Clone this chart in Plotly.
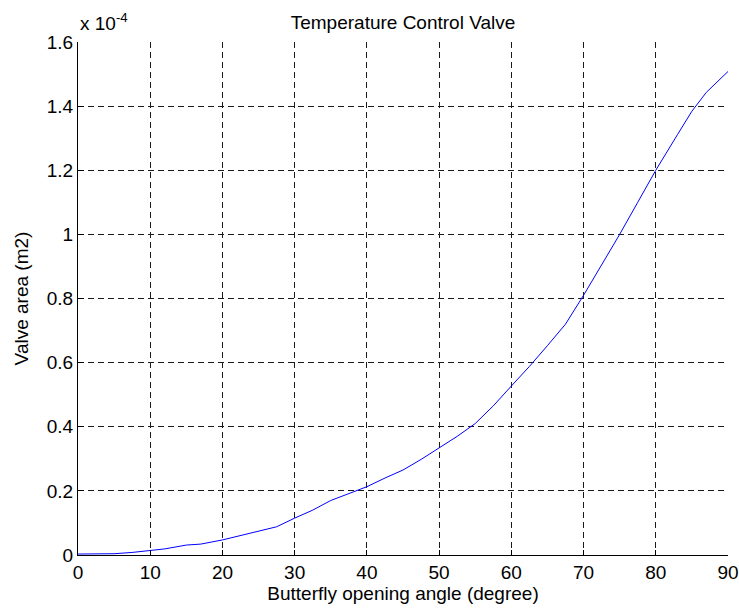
import plotly.graph_objects as go

# Butterfly opening angle (degrees) and valve area (in units of 1e-4 m2)
angle_deg = [0, 5, 7.5, 10, 12, 15, 17, 20, 22, 25, 27.5, 30, 32.5, 35, 37.5,
             40, 42.5, 45, 47.5, 50, 52.5, 55, 57.5, 60, 62.5, 65, 67.5, 70,
             72.5, 75, 77.5, 80, 83, 85, 87, 90]
area_e4 = [0.003, 0.004, 0.008, 0.013, 0.019, 0.031, 0.034, 0.047, 0.058, 0.075,
           0.088, 0.115, 0.140, 0.170, 0.192, 0.213, 0.240, 0.265, 0.298, 0.333,
           0.370, 0.410, 0.465, 0.527, 0.588, 0.653, 0.720, 0.810, 0.905, 1.000,
           1.100, 1.200, 1.311, 1.384, 1.443, 1.508]
SCALE = 1e-4
area_m2 = [v * SCALE for v in area_e4]

x_ticks = [0, 10, 20, 30, 40, 50, 60, 70, 80, 90]
y_tick_labels = ["0", "0.2", "0.4", "0.6", "0.8", "1", "1.2", "1.4", "1.6"]
y_ticks = [float(t) * SCALE for t in y_tick_labels]

FONT = "Liberation Sans, Arial, Helvetica, sans-serif"
FS = 19
GRID = "#1a1a1a"

fig = go.Figure()
fig.add_trace(go.Scatter(
    x=angle_deg, y=area_m2, mode="lines",
    line=dict(color="#0000ff", width=1), showlegend=False,
))

axis_common = dict(
    showgrid=True, gridcolor=GRID, gridwidth=1, griddash="6px,4px",
    zeroline=False, ticks="inside", ticklen=5, tickwidth=1, tickcolor="#000",
    tickfont=dict(family=FONT, size=FS, color="#000"), automargin=False,
)

fig.update_layout(
    width=739, height=610,
    margin=dict(l=78, r=11, t=42, b=55, autoexpand=False),
    paper_bgcolor="white", plot_bgcolor="white",
    font=dict(family=FONT, size=FS, color="#000"),
    title=dict(text="Temperature Control Valve", x=0.5, xanchor="center",
               xref="paper", y=1, yref="paper", yanchor="bottom",
               pad=dict(b=13), font=dict(family=FONT, size=FS, color="#000")),
    xaxis=dict(range=[0, 90], tickvals=x_ticks, ticktext=[str(t) for t in x_ticks],
               showline=True, linecolor="#000", linewidth=1,
               title=dict(text="Butterfly opening angle (degree)", standoff=3,
                          font=dict(family=FONT, size=FS)),
               **axis_common),
    yaxis=dict(range=[0, 1.6 * SCALE], tickvals=y_ticks, ticktext=y_tick_labels,
               showline=True, linecolor="#000", linewidth=1,
               title=dict(text="Valve area (m2)", standoff=13,
                          font=dict(family=FONT, size=FS)),
               **axis_common),
    # mirrored tick marks on the top and right edges (no solid box line)
    xaxis2=dict(overlaying="x", side="top", range=[0, 90], tickvals=x_ticks,
                showticklabels=False, showgrid=False, zeroline=False, showline=False,
                ticks="inside", ticklen=5, tickcolor="#000", automargin=False),
    yaxis2=dict(overlaying="y", side="right", range=[0, 1.6 * SCALE], tickvals=y_ticks,
                showticklabels=False, showgrid=False, zeroline=False, showline=False,
                ticks="inside", ticklen=5, tickcolor="#000", automargin=False),
)

fig.add_annotation(
    text="x 10<sup>-4</sup>", xref="paper", yref="paper", x=0, y=1,
    xanchor="left", yanchor="bottom", yshift=6, showarrow=False,
    font=dict(family=FONT, size=FS, color="#000"),
)

fig.write_html("out.html")
